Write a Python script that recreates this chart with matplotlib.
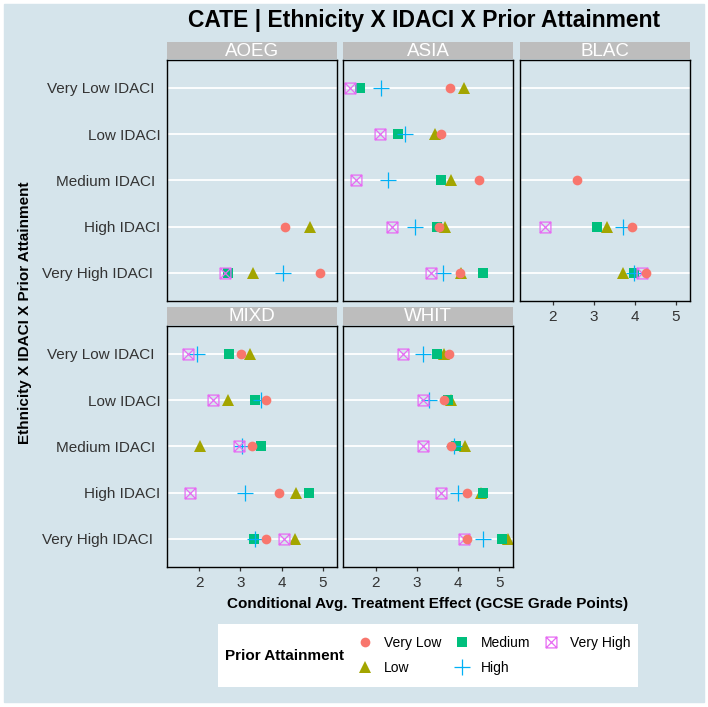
#!/usr/bin/env python3
"""CATE dot plot: ethnicity x IDACI x prior attainment, faceted by ethnicity."""

import numpy as np
import matplotlib
matplotlib.use("Agg")
import matplotlib.pyplot as plt
import matplotlib.transforms as mtransforms
from matplotlib.path import Path
from matplotlib.lines import Line2D
from matplotlib.patches import Rectangle

plt.rcParams['font.family'] = ['Liberation Sans', 'DejaVu Sans']

nan = np.nan

# rows: Very Low, Low, Medium, High, Very High IDACI
idaci = ["Very Low IDACI", "Low IDACI", "Medium IDACI", "High IDACI", "Very High IDACI"]
levels = ["Very Low", "Low", "Medium", "High", "Very High"]
ticks_x = [2, 3, 4, 5]

# one list per prior attainment level (same order as `levels`)
aoeg = [
    [nan, nan, nan, 4.09, 4.94],
    [nan, nan, nan, 4.70, 3.30],
    [nan, nan, nan, nan, 2.69],
    [nan, nan, nan, nan, 4.04],
    [nan, nan, nan, nan, 2.63],
]
asia = [
    [3.81, 3.58, 4.50, 3.53, 4.04],
    [4.14, 3.44, 3.82, 3.68, 4.07],
    [1.62, 2.53, 3.58, 3.49, 4.60],
    [2.12, 2.71, 2.30, 2.96, 3.64],
    [1.37, 2.10, 1.52, 2.40, 3.35],
]
blac = [
    [nan, nan, 2.60, 3.93, 4.27],
    [nan, nan, nan, 3.33, 3.72],
    [nan, nan, nan, 3.09, 3.97],
    [nan, nan, nan, 3.71, 3.99],
    [nan, nan, nan, 1.81, 4.18],
]
mixd = [
    [3.01, 3.61, 3.27, 3.95, 3.62],
    [3.24, 2.70, 2.02, 4.36, 4.34],
    [2.71, 3.35, 3.50, 4.67, 3.33],
    [1.94, 3.51, 3.05, 3.12, 3.35],
    [1.72, 2.32, 2.97, 1.77, 4.06],
]
whit = [
    [3.79, 3.66, 3.82, 4.22, 4.21],
    [3.66, 3.82, 4.17, 4.55, 5.22],
    [3.49, 3.76, 3.95, 4.61, 5.06],
    [3.15, 3.30, 3.90, 3.99, 4.60],
    [2.67, 3.15, 3.15, 3.59, 4.15],
]
panels = [("AOEG", aoeg), ("ASIA", asia), ("BLAC", blac), ("MIXD", mixd), ("WHIT", whit)]

W, H = 708, 707
BG = "#d5e4eb"
STRIP = "#bdbdbd"
TXT = "#333333"
colors = ["#F8766D", "#A3A500", "#00BF7D", "#00B0F6", "#E76BF3"]

# square with an X inside (ggplot shape 7)
boxx = Path([(-1, -1), (1, -1), (1, 1), (-1, 1), (-1, -1), (-1, -1), (1, 1), (-1, 1), (1, -1)],
            [Path.MOVETO, Path.LINETO, Path.LINETO, Path.LINETO, Path.CLOSEPOLY,
             Path.MOVETO, Path.LINETO, Path.MOVETO, Path.LINETO])

styles = [
    dict(marker="o", markersize=7.0, markeredgewidth=0),
    dict(marker="^", markersize=9.0, markeredgewidth=0),
    dict(marker="s", markersize=7.2, markeredgewidth=0),
    dict(marker="+", markersize=11, markeredgewidth=0.9),
    dict(marker=boxx, markersize=7.8, markeredgewidth=0.9, markerfacecolor="none"),
]
draw_order = [1, 2, 3, 4, 0]


def px_axes(fig, x0, y0, x1, y1, **kw):
    return fig.add_axes([x0 / W, 1 - y1 / H, (x1 - x0) / W, (y1 - y0) / H], **kw)


fig = plt.figure(figsize=(W / 100, H / 100), dpi=100, facecolor="white")
fig.add_artist(Rectangle((4 / W, 1 - 702 / H), 700 / W, 698 / H,
                         transform=fig.transFigure, color=BG, zorder=0))

cols_px = [(166.7, 336.7), (343.3, 513.3), (520.0, 690.0)]
rows_px = [(60.0, 300.7), (326.0, 566.7)]
strips_px = [(42.0, 59.0), (307.0, 325.0)]
ypos = np.arange(1, len(idaci) + 1)
label_shift = [-6.7, 0, -5.7, -0.7, -8.4]

for i, (name, vals) in enumerate(panels):
    r, c = divmod(i, 3)
    x0, x1 = cols_px[c]
    y0, y1 = rows_px[r]
    ax = px_axes(fig, x0, y0, x1, y1, facecolor=BG)
    for k in draw_order:
        ax.plot(vals[k], ypos, linestyle="none", color=colors[k], **styles[k])
    ax.set_xlim(1.205, 5.343)
    ax.set_ylim(5.6, 0.4)
    ax.set_yticks(ypos)
    ax.set_axisbelow(True)
    ax.yaxis.grid(True, color="white", linewidth=1.3)
    ax.xaxis.grid(False)
    for sp in ax.spines.values():
        sp.set_color("black")
        sp.set_linewidth(1.0)

    ax.tick_params(axis="y", length=0, pad=4.1, labelsize=11, labelcolor=TXT)
    if c == 0:
        ax.set_yticklabels(idaci)
        for lab, dx in zip(ax.get_yticklabels(), label_shift):
            lab.set_transform(lab.get_transform() +
                              mtransforms.ScaledTranslation(dx / 100, 0, fig.dpi_scale_trans))
    else:
        ax.set_yticklabels([])

    ax.set_xticks(ticks_x)
    if r == 1 or name == "BLAC":
        ax.tick_params(axis="x", length=3, width=0.9, color="#333333", pad=3.8,
                       labelsize=11, labelcolor=TXT)
    else:
        ax.tick_params(axis="x", length=0, labelbottom=False)

    sy0, sy1 = strips_px[r]
    sax = px_axes(fig, x0, sy0, x1, sy1, facecolor=STRIP)
    sax.set_xticks([])
    sax.set_yticks([])
    for sp in sax.spines.values():
        sp.set_visible(False)
    sax.text(0.5, 0.45, name, ha="center", va="center", color="white", fontsize=13.5,
             transform=sax.transAxes)

fig.text(424 / W, 1 - 20 / H, "CATE | Ethnicity X IDACI X Prior Attainment",
         ha="center", va="center", fontsize=16.5, fontweight="bold")
fig.text(428 / W, 1 - 604 / H, "Conditional Avg. Treatment Effect (GCSE Grade Points)",
         ha="center", va="center", fontsize=11, fontweight="bold")
fig.text(25 / W, 1 - 313 / H, "Ethnicity X IDACI X Prior Attainment",
         ha="center", va="center", rotation=90, fontsize=11, fontweight="bold")

# legend box
lx0, ly0, lx1, ly1 = 218, 624, 638, 687
lax = px_axes(fig, lx0, ly0, lx1, ly1, facecolor="white")
lax.set_xticks([])
lax.set_yticks([])
for sp in lax.spines.values():
    sp.set_visible(False)
lax.text((225 - lx0) / (lx1 - lx0), 0.5, "Prior Attainment", ha="left", va="center",
         fontsize=11, fontweight="bold", transform=lax.transAxes)
handles = [Line2D([], [], linestyle="none", color=colors[k], **styles[k]) for k in range(5)]
lax.legend(handles, levels, ncol=3, loc="center left",
           bbox_to_anchor=((358 - lx0) / (lx1 - lx0), 0.5), frameon=False,
           borderpad=0, borderaxespad=0, handlelength=1.0, handletextpad=0.86,
           columnspacing=1.0, labelspacing=0.82, fontsize=10)

fig.savefig("out.png", dpi=100, facecolor="white")
